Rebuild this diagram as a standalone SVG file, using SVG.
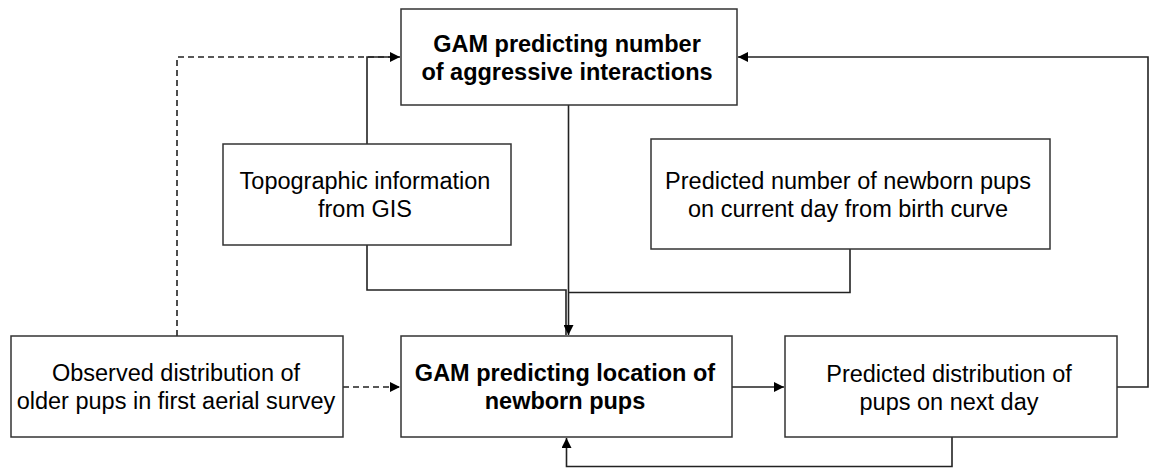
<svg xmlns="http://www.w3.org/2000/svg" width="1151" height="470" viewBox="0 0 1151 470">
<style>
.box{fill:#fff;stroke:#333;stroke-width:1.5}
.t{font-family:"Liberation Sans",Arial,sans-serif;font-size:23.5px;fill:#000;text-anchor:middle}
.b{font-weight:bold}
.ln{fill:none;stroke:#222;stroke-width:1.6}
.dash{stroke-dasharray:6,4}
</style>
<defs>
<marker id="ah" markerUnits="userSpaceOnUse" viewBox="0 0 10 10" refX="10" refY="5" markerWidth="11" markerHeight="10" orient="auto">
<path d="M0,0 L10,5 L0,10 Z" fill="#000"/>
</marker>
</defs>
<g id="connectors">
<path class="ln dash" d="M177,336 V57 H390"/>
<path class="ln" d="M367,144 V57 H400" marker-end="url(#ah)"/>
<path class="ln dash" d="M343,387 H400" marker-end="url(#ah)"/>
<path class="ln" d="M367,245 V290 H566 V335"/>
<path class="ln" d="M568.5,105 V335" marker-end="url(#ah)"/>
<path class="ln" d="M850,249 V292.5 H568.5"/>
<path class="ln" d="M732,387 H784" marker-end="url(#ah)"/>
<path class="ln" d="M1117,387 H1148 V57 H738" marker-end="url(#ah)"/>
<path class="ln" d="M952,437 V466.5 H566.5 V438" marker-end="url(#ah)"/>
</g>
<g id="gam-aggressive">
<rect class="box" x="401" y="9" width="336" height="96"/>
<text class="t b" x="567" y="51.5">GAM predicting number</text>
<text class="t b" x="567" y="80">of aggressive interactions</text>
</g>
<g id="topographic">
<rect class="box" x="223" y="144" width="288" height="101"/>
<text class="t" x="365" y="188.5">Topographic information</text>
<text class="t" x="365" y="216.5">from GIS</text>
</g>
<g id="newborn-number">
<rect class="box" x="651" y="139" width="399" height="110"/>
<text class="t" x="848" y="188.5">Predicted number of newborn pups</text>
<text class="t" x="848" y="216.5">on current day from birth curve</text>
</g>
<g id="observed">
<rect class="box" x="11" y="336" width="332" height="101"/>
<text class="t" x="176" y="381">Observed distribution of</text>
<text class="t" x="176" y="409">older pups in first aerial survey</text>
</g>
<g id="gam-location">
<rect class="box" x="401" y="336" width="331" height="101"/>
<text class="t b" x="565" y="381">GAM predicting location of</text>
<text class="t b" x="565" y="409">newborn pups</text>
</g>
<g id="predicted-distribution">
<rect class="box" x="785" y="336" width="332" height="101"/>
<text class="t" x="949" y="381.5">Predicted distribution of</text>
<text class="t" x="949" y="409.5">pups on next day</text>
</g>
</svg>
